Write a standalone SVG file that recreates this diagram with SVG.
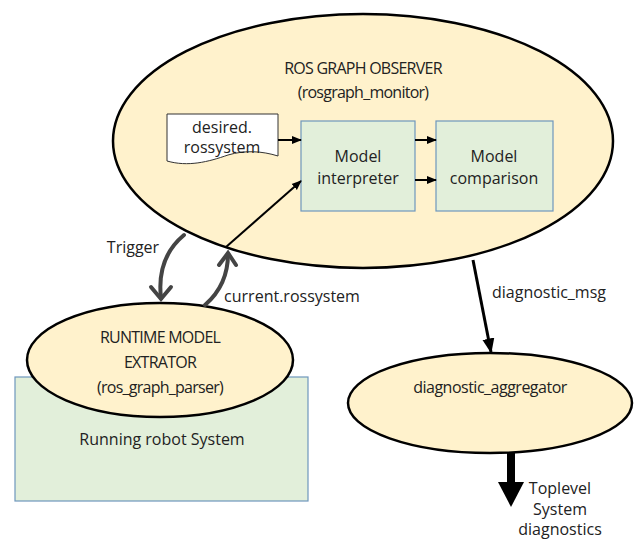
<svg xmlns="http://www.w3.org/2000/svg" width="635" height="541" viewBox="0 0 635 541">
<defs>
<style>
.t{font-family:"Open Sans","Liberation Sans",sans-serif;font-size:16px;fill:#222;text-anchor:middle}
.c{letter-spacing:-0.75px}
.ell{fill:#FFF2CC;stroke:#000;stroke-width:2.5}
.box{fill:#E2EFDA;stroke:#6E97BD;stroke-width:1.2}
.ln{stroke:#000;stroke-width:2;fill:none}
.gr{stroke:#444;stroke-width:4;fill:none;stroke-linecap:round}
</style>
<marker id="ah" viewBox="0 0 10 10" refX="9" refY="5" markerWidth="5" markerHeight="5" orient="auto" markerUnits="strokeWidth">
<path d="M0,1 L10,5 L0,9 Z" fill="#000"/>
</marker>
</defs>
<rect width="635" height="541" fill="#fff"/>
<g id="robot-system">
<rect class="box" x="15" y="377" width="293" height="124"/>
<text class="t" x="162" y="445">Running robot System</text>
</g>
<g id="observer">
<ellipse class="ell" cx="363" cy="141" rx="250" ry="127"/>
<text class="t c" x="363" y="74">ROS GRAPH OBSERVER</text>
<text class="t c" x="363" y="98">(rosgraph_monitor)</text>
</g>
<g id="desired">
<path d="M167,114 H278 V156 C262,151 245,150 228,155 C208,162 188,167 167,161 Z" fill="#fff" stroke="#333" stroke-width="1"/>
<text class="t" x="222" y="133">desired.</text>
<text class="t" x="222" y="153">rossystem</text>
</g>
<g id="interpreter">
<rect class="box" x="301" y="121" width="114" height="90"/>
<text class="t" x="358" y="162">Model</text>
<text class="t" x="358" y="184">interpreter</text>
</g>
<g id="comparison">
<rect class="box" x="436" y="121" width="117" height="90"/>
<text class="t" x="494" y="162">Model</text>
<text class="t" x="494" y="184">comparison</text>
</g>
<g id="extractor">
<ellipse class="ell" cx="160" cy="360" rx="133" ry="57"/>
<text class="t c" x="160" y="343">RUNTIME MODEL</text>
<text class="t c" x="160" y="368">EXTRATOR</text>
<text class="t c" x="160" y="393">(ros_graph_parser)</text>
</g>
<g id="aggregator">
<ellipse class="ell" cx="490" cy="403" rx="142" ry="50"/>
<text class="t" x="490" y="393" style="letter-spacing:-0.5px">diagnostic_aggregator</text>
</g>
<g id="connectors">
<line class="ln" x1="278" y1="140" x2="301" y2="140" marker-end="url(#ah)"/>
<line class="ln" x1="415" y1="140" x2="436" y2="140" marker-end="url(#ah)"/>
<line class="ln" x1="415" y1="180" x2="436" y2="180" marker-end="url(#ah)"/>
<line class="ln" x1="226" y1="247" x2="301" y2="181" marker-end="url(#ah)"/>
<path class="gr" d="M184,235 C166,250 158,272 161,298"/>
<path class="gr" d="M151,287 L161,299 L171,287"/>
<path class="gr" d="M205,305 C220,292 228,275 228,254"/>
<path class="gr" d="M219,265 L228,253 L236,265"/>
<text class="t" x="133" y="253">Trigger</text>
<text class="t" x="292" y="302">current.rossystem</text>
<line class="ln" x1="473" y1="260" x2="491" y2="352" style="stroke-width:3" marker-end="url(#ah)"/>
<text class="t" x="549" y="298">diagnostic_msg</text>
<line x1="511" y1="453" x2="511" y2="484" stroke="#000" stroke-width="8"/>
<path d="M498,482 L524,482 L511,507 Z" fill="#000"/>
<text class="t" x="560" y="494">Toplevel</text>
<text class="t" x="560" y="515">System</text>
<text class="t" x="560" y="535">diagnostics</text>
</g>
</svg>
